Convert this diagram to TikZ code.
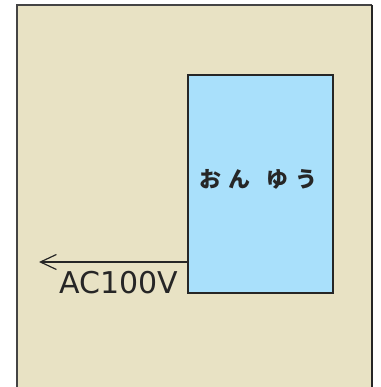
\documentclass[tikz,border=0pt]{standalone}
\usepackage{fontspec}
\newfontfamily\jpfont{Noto Sans CJK JP}
\newfontfamily\labelfont{DejaVu Sans}
\usetikzlibrary{arrows.meta,positioning}
\definecolor{wallbeige}{HTML}{E8E2C4}
\definecolor{unitblue}{HTML}{A9E0FB}
\definecolor{edgegray}{HTML}{444444}

\begin{document}
\begin{tikzpicture}[
    x=1bp, y=1bp,
    unit/.style={fill=unitblue, draw=black!85, line width=1.5bp},
    >={Straight Barb[length=16bp, width=15bp]}
  ]
    \useasboundingbox (0,0) rectangle (381,387);
    % background wall
    \fill[wallbeige] (17,-2) rectangle (372,382);
    \draw[edgegray, line width=1.2bp] (17,-2) -- (17,382) -- (372,382);
    \draw[black!85, line width=1.5bp] (372,382) -- (372,-2);

    % heater box
    \node[unit, minimum width=145bp, minimum height=218bp, inner sep=0pt] (onyu) at (260.5,203) {};
    \node[font=\jpfont\bfseries\fontsize{22bp}{22bp}\selectfont, text=black!85, inner sep=0pt] (onyulabel) at (258.5,208) {お\hspace{0.35em}ん\hspace{0.7em}ゆ\hspace{0.35em}う};

    % power cable
    \coordinate (plug) at (39,125);
    \draw[->, line width=1.2bp, black!85] (onyu.west |- plug) -- (plug);
    \node[font=\labelfont\fontsize{30bp}{30bp}\selectfont, text=black!85, anchor=base east, inner sep=0pt] (ac) at (178,94) {AC100V};
\end{tikzpicture}
\end{document}
